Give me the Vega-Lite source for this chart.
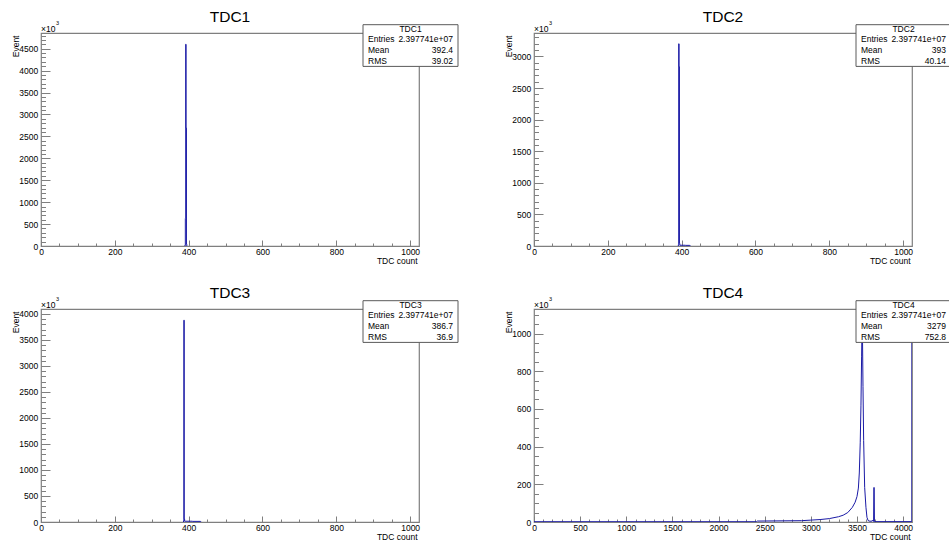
{
  "$schema": "https://vega.github.io/schema/vega-lite/v6.json",
  "background": "white",
  "padding": {"left": 10, "top": 9, "right": 0, "bottom": 0},
  "datasets": {
    "hist": [
      {"tdc": "TDC1", "tdc_count": 389, "events_k": 0},
      {"tdc": "TDC1", "tdc_count": 390, "events_k": 15},
      {"tdc": "TDC1", "tdc_count": 391, "events_k": 630},
      {"tdc": "TDC1", "tdc_count": 392, "events_k": 4600},
      {"tdc": "TDC1", "tdc_count": 393, "events_k": 2690},
      {"tdc": "TDC1", "tdc_count": 394, "events_k": 40},
      {"tdc": "TDC1", "tdc_count": 395, "events_k": 0},
      {"tdc": "TDC2", "tdc_count": 390, "events_k": 0},
      {"tdc": "TDC2", "tdc_count": 391, "events_k": 20},
      {"tdc": "TDC2", "tdc_count": 392, "events_k": 3200},
      {"tdc": "TDC2", "tdc_count": 393, "events_k": 2840},
      {"tdc": "TDC2", "tdc_count": 394, "events_k": 40},
      {"tdc": "TDC2", "tdc_count": 395, "events_k": 12},
      {"tdc": "TDC2", "tdc_count": 410, "events_k": 10},
      {"tdc": "TDC2", "tdc_count": 422, "events_k": 6},
      {"tdc": "TDC2", "tdc_count": 423, "events_k": 0},
      {"tdc": "TDC3", "tdc_count": 385, "events_k": 0},
      {"tdc": "TDC3", "tdc_count": 386, "events_k": 25},
      {"tdc": "TDC3", "tdc_count": 387, "events_k": 3880},
      {"tdc": "TDC3", "tdc_count": 388, "events_k": 60},
      {"tdc": "TDC3", "tdc_count": 389, "events_k": 15},
      {"tdc": "TDC3", "tdc_count": 410, "events_k": 12},
      {"tdc": "TDC3", "tdc_count": 432, "events_k": 8},
      {"tdc": "TDC3", "tdc_count": 433, "events_k": 0},
      {"tdc": "TDC4", "tdc_count": 0, "events_k": 1.5},
      {"tdc": "TDC4", "tdc_count": 2410, "events_k": 1.5},
      {"tdc": "TDC4", "tdc_count": 2420, "events_k": 5},
      {"tdc": "TDC4", "tdc_count": 2900, "events_k": 7},
      {"tdc": "TDC4", "tdc_count": 3000, "events_k": 10},
      {"tdc": "TDC4", "tdc_count": 3100, "events_k": 13},
      {"tdc": "TDC4", "tdc_count": 3200, "events_k": 18},
      {"tdc": "TDC4", "tdc_count": 3300, "events_k": 28},
      {"tdc": "TDC4", "tdc_count": 3350, "events_k": 36},
      {"tdc": "TDC4", "tdc_count": 3400, "events_k": 50},
      {"tdc": "TDC4", "tdc_count": 3450, "events_k": 78},
      {"tdc": "TDC4", "tdc_count": 3480, "events_k": 105},
      {"tdc": "TDC4", "tdc_count": 3500, "events_k": 135},
      {"tdc": "TDC4", "tdc_count": 3515, "events_k": 180},
      {"tdc": "TDC4", "tdc_count": 3525, "events_k": 260},
      {"tdc": "TDC4", "tdc_count": 3535, "events_k": 420},
      {"tdc": "TDC4", "tdc_count": 3543, "events_k": 620},
      {"tdc": "TDC4", "tdc_count": 3550, "events_k": 880},
      {"tdc": "TDC4", "tdc_count": 3555, "events_k": 1076},
      {"tdc": "TDC4", "tdc_count": 3560, "events_k": 960},
      {"tdc": "TDC4", "tdc_count": 3565, "events_k": 720},
      {"tdc": "TDC4", "tdc_count": 3572, "events_k": 433},
      {"tdc": "TDC4", "tdc_count": 3583, "events_k": 184},
      {"tdc": "TDC4", "tdc_count": 3597, "events_k": 78},
      {"tdc": "TDC4", "tdc_count": 3608, "events_k": 25},
      {"tdc": "TDC4", "tdc_count": 3620, "events_k": 8},
      {"tdc": "TDC4", "tdc_count": 3640, "events_k": 4},
      {"tdc": "TDC4", "tdc_count": 3665, "events_k": 5},
      {"tdc": "TDC4", "tdc_count": 3673, "events_k": 10},
      {"tdc": "TDC4", "tdc_count": 3680, "events_k": 3},
      {"tdc": "TDC4", "tdc_count": 3683, "events_k": 183},
      {"tdc": "TDC4", "tdc_count": 3686, "events_k": 183},
      {"tdc": "TDC4", "tdc_count": 3689, "events_k": 2},
      {"tdc": "TDC4", "tdc_count": 4094, "events_k": 2},
      {"tdc": "TDC4", "tdc_count": 4095, "events_k": 1076}
    ],
    "stats": [
      {"tdc": "TDC1", "line": 0, "stat": "Entries", "val": "2.397741e+07"},
      {"tdc": "TDC1", "line": 1, "stat": "Mean", "val": "392.4"},
      {"tdc": "TDC1", "line": 2, "stat": "RMS", "val": "39.02"},
      {"tdc": "TDC2", "line": 0, "stat": "Entries", "val": "2.397741e+07"},
      {"tdc": "TDC2", "line": 1, "stat": "Mean", "val": "393"},
      {"tdc": "TDC2", "line": 2, "stat": "RMS", "val": "40.14"},
      {"tdc": "TDC3", "line": 0, "stat": "Entries", "val": "2.397741e+07"},
      {"tdc": "TDC3", "line": 1, "stat": "Mean", "val": "386.7"},
      {"tdc": "TDC3", "line": 2, "stat": "RMS", "val": "36.9"},
      {"tdc": "TDC4", "line": 0, "stat": "Entries", "val": "2.397741e+07"},
      {"tdc": "TDC4", "line": 1, "stat": "Mean", "val": "3279"},
      {"tdc": "TDC4", "line": 2, "stat": "RMS", "val": "752.8"}
    ]
  },
  "columns": 2,
  "spacing": {"row": 63, "column": 115},
  "bounds": "flush",
  "concat": [
    {
      "width": 378, "height": 213,
      "title": {"text": "TDC1"},
      "layer": [
        {
          "data": {"name": "hist"},
          "transform": [{"filter": "datum.tdc === 'TDC1'"}],
          "mark": {"type": "line", "interpolate": "step-after", "color": "#1a1aa6", "strokeWidth": 1, "clip": true},
          "encoding": {
            "x": {"field": "tdc_count", "type": "quantitative", "scale": {"domain": [0, 1024], "nice": false, "zero": false},
              "axis": {"values": [0,50,100,150,200,250,300,350,400,450,500,550,600,650,700,750,800,850,900,950,1000], "format": "d",
                "labelExpr": "datum.value % 200 === 0 ? datum.label : ''",
                "tickSize": {"condition": {"test": "datum.value % 200 === 0", "value": -6}, "value": -3},
                "labelPadding": 7.5, "title": "TDC count", "titleX": 376, "titleY": 14, "titleAlign": "right", "titleBaseline": "middle"}},
            "y": {"field": "events_k", "type": "quantitative", "scale": {"domain": [0, 4858], "nice": false},
              "axis": {"values": [0,100,200,300,400,500,600,700,800,900,1000,1100,1200,1300,1400,1500,1600,1700,1800,1900,2000,2100,2200,2300,2400,2500,2600,2700,2800,2900,3000,3100,3200,3300,3400,3500,3600,3700,3800,3900,4000,4100,4200,4300,4400,4500,4600,4700,4800], "format": "d",
                "labelExpr": "datum.value % 500 === 0 ? datum.label : ''",
                "tickSize": {"condition": {"test": "datum.value % 500 === 0", "value": -9}, "value": -4.5},
                "labelPadding": 12.3, "title": "Event", "titleX": -26, "titleY": 2, "titleAlign": "right", "titleAngle": 270, "titleBaseline": "middle"}}
          }
        },
        {"data": {"name": "stats"}, "transform": [{"filter": "datum.tdc === 'TDC1' && datum.line === 0"}],
          "mark": {"type": "rect", "x": 322, "x2": 417, "y": -8.3, "y2": 33.4, "fill": "white", "stroke": "#5a5a5a", "strokeWidth": 1}},
        {"data": {"name": "stats"}, "transform": [{"filter": "datum.tdc === 'TDC1' && datum.line === 0"}],
          "mark": {"type": "rule", "x": 322, "x2": 417, "y": 0, "y2": 0, "stroke": "#5a5a5a", "strokeWidth": 1}, "encoding": {}},
        {"data": {"name": "stats"}, "transform": [{"filter": "datum.tdc === 'TDC1' && datum.line === 0"}],
          "mark": {"type": "text", "x": 369.5, "y": -4, "align": "center", "baseline": "middle", "fontSize": 8.5},
          "encoding": {"text": {"field": "tdc"}}},
        {"data": {"name": "stats"}, "transform": [{"filter": "datum.tdc === 'TDC1'"}],
          "mark": {"type": "text", "x": 327, "y": {"expr": "6.4 + datum.line * 10.65"}, "align": "left", "baseline": "middle", "fontSize": 8.5},
          "encoding": {"text": {"field": "stat"}}},
        {"data": {"name": "stats"}, "transform": [{"filter": "datum.tdc === 'TDC1'"}],
          "mark": {"type": "text", "x": 412, "y": {"expr": "6.4 + datum.line * 10.65"}, "align": "right", "baseline": "middle", "fontSize": 8.5},
          "encoding": {"text": {"field": "val"}}},
        {"data": {"name": "stats"}, "transform": [{"filter": "datum.tdc === 'TDC1' && datum.line === 0"}],
          "mark": {"type": "text", "text": "×10", "x": 0, "y": -1.5, "align": "left", "baseline": "alphabetic", "fontSize": 8.5}},
        {"data": {"name": "stats"}, "transform": [{"filter": "datum.tdc === 'TDC1' && datum.line === 0"}],
          "mark": {"type": "text", "text": "3", "x": 15, "y": -8, "align": "left", "baseline": "alphabetic", "fontSize": 5.5}}
      ]
    },
    {
      "width": 378, "height": 213,
      "title": {"text": "TDC2"},
      "layer": [
        {
          "data": {"name": "hist"},
          "transform": [{"filter": "datum.tdc === 'TDC2'"}],
          "mark": {"type": "line", "interpolate": "step-after", "color": "#1a1aa6", "strokeWidth": 1, "clip": true},
          "encoding": {
            "x": {"field": "tdc_count", "type": "quantitative", "scale": {"domain": [0, 1024], "nice": false, "zero": false},
              "axis": {"values": [0,50,100,150,200,250,300,350,400,450,500,550,600,650,700,750,800,850,900,950,1000], "format": "d",
                "labelExpr": "datum.value % 200 === 0 ? datum.label : ''",
                "tickSize": {"condition": {"test": "datum.value % 200 === 0", "value": -6}, "value": -3},
                "labelPadding": 7.5, "title": "TDC count", "titleX": 376, "titleY": 14, "titleAlign": "right", "titleBaseline": "middle"}},
            "y": {"field": "events_k", "type": "quantitative", "scale": {"domain": [0, 3371], "nice": false},
              "axis": {"values": [0,100,200,300,400,500,600,700,800,900,1000,1100,1200,1300,1400,1500,1600,1700,1800,1900,2000,2100,2200,2300,2400,2500,2600,2700,2800,2900,3000,3100,3200,3300], "format": "d",
                "labelExpr": "datum.value % 500 === 0 ? datum.label : ''",
                "tickSize": {"condition": {"test": "datum.value % 500 === 0", "value": -9}, "value": -4.5},
                "labelPadding": 12.3, "title": "Event", "titleX": -26, "titleY": 2, "titleAlign": "right", "titleAngle": 270, "titleBaseline": "middle"}}
          }
        },
        {"data": {"name": "stats"}, "transform": [{"filter": "datum.tdc === 'TDC2' && datum.line === 0"}],
          "mark": {"type": "rect", "x": 322, "x2": 417, "y": -8.3, "y2": 33.4, "fill": "white", "stroke": "#5a5a5a", "strokeWidth": 1}},
        {"data": {"name": "stats"}, "transform": [{"filter": "datum.tdc === 'TDC2' && datum.line === 0"}],
          "mark": {"type": "rule", "x": 322, "x2": 417, "y": 0, "y2": 0, "stroke": "#5a5a5a", "strokeWidth": 1}, "encoding": {}},
        {"data": {"name": "stats"}, "transform": [{"filter": "datum.tdc === 'TDC2' && datum.line === 0"}],
          "mark": {"type": "text", "x": 369.5, "y": -4, "align": "center", "baseline": "middle", "fontSize": 8.5},
          "encoding": {"text": {"field": "tdc"}}},
        {"data": {"name": "stats"}, "transform": [{"filter": "datum.tdc === 'TDC2'"}],
          "mark": {"type": "text", "x": 327, "y": {"expr": "6.4 + datum.line * 10.65"}, "align": "left", "baseline": "middle", "fontSize": 8.5},
          "encoding": {"text": {"field": "stat"}}},
        {"data": {"name": "stats"}, "transform": [{"filter": "datum.tdc === 'TDC2'"}],
          "mark": {"type": "text", "x": 412, "y": {"expr": "6.4 + datum.line * 10.65"}, "align": "right", "baseline": "middle", "fontSize": 8.5},
          "encoding": {"text": {"field": "val"}}},
        {"data": {"name": "stats"}, "transform": [{"filter": "datum.tdc === 'TDC2' && datum.line === 0"}],
          "mark": {"type": "text", "text": "×10", "x": 0, "y": -1.5, "align": "left", "baseline": "alphabetic", "fontSize": 8.5}},
        {"data": {"name": "stats"}, "transform": [{"filter": "datum.tdc === 'TDC2' && datum.line === 0"}],
          "mark": {"type": "text", "text": "3", "x": 15, "y": -8, "align": "left", "baseline": "alphabetic", "fontSize": 5.5}}
      ]
    },
    {
      "width": 378, "height": 213,
      "title": {"text": "TDC3"},
      "layer": [
        {
          "data": {"name": "hist"},
          "transform": [{"filter": "datum.tdc === 'TDC3'"}],
          "mark": {"type": "line", "interpolate": "step-after", "color": "#1a1aa6", "strokeWidth": 1, "clip": true},
          "encoding": {
            "x": {"field": "tdc_count", "type": "quantitative", "scale": {"domain": [0, 1024], "nice": false, "zero": false},
              "axis": {"values": [0,50,100,150,200,250,300,350,400,450,500,550,600,650,700,750,800,850,900,950,1000], "format": "d",
                "labelExpr": "datum.value % 200 === 0 ? datum.label : ''",
                "tickSize": {"condition": {"test": "datum.value % 200 === 0", "value": -6}, "value": -3},
                "labelPadding": 7.5, "title": "TDC count", "titleX": 376, "titleY": 14, "titleAlign": "right", "titleBaseline": "middle"}},
            "y": {"field": "events_k", "type": "quantitative", "scale": {"domain": [0, 4096], "nice": false},
              "axis": {"values": [0,100,200,300,400,500,600,700,800,900,1000,1100,1200,1300,1400,1500,1600,1700,1800,1900,2000,2100,2200,2300,2400,2500,2600,2700,2800,2900,3000,3100,3200,3300,3400,3500,3600,3700,3800,3900,4000], "format": "d",
                "labelExpr": "datum.value % 500 === 0 ? datum.label : ''",
                "tickSize": {"condition": {"test": "datum.value % 500 === 0", "value": -9}, "value": -4.5},
                "labelPadding": 12.3, "title": "Event", "titleX": -26, "titleY": 2, "titleAlign": "right", "titleAngle": 270, "titleBaseline": "middle"}}
          }
        },
        {"data": {"name": "stats"}, "transform": [{"filter": "datum.tdc === 'TDC3' && datum.line === 0"}],
          "mark": {"type": "rect", "x": 322, "x2": 417, "y": -8.3, "y2": 33.4, "fill": "white", "stroke": "#5a5a5a", "strokeWidth": 1}},
        {"data": {"name": "stats"}, "transform": [{"filter": "datum.tdc === 'TDC3' && datum.line === 0"}],
          "mark": {"type": "rule", "x": 322, "x2": 417, "y": 0, "y2": 0, "stroke": "#5a5a5a", "strokeWidth": 1}, "encoding": {}},
        {"data": {"name": "stats"}, "transform": [{"filter": "datum.tdc === 'TDC3' && datum.line === 0"}],
          "mark": {"type": "text", "x": 369.5, "y": -4, "align": "center", "baseline": "middle", "fontSize": 8.5},
          "encoding": {"text": {"field": "tdc"}}},
        {"data": {"name": "stats"}, "transform": [{"filter": "datum.tdc === 'TDC3'"}],
          "mark": {"type": "text", "x": 327, "y": {"expr": "6.4 + datum.line * 10.65"}, "align": "left", "baseline": "middle", "fontSize": 8.5},
          "encoding": {"text": {"field": "stat"}}},
        {"data": {"name": "stats"}, "transform": [{"filter": "datum.tdc === 'TDC3'"}],
          "mark": {"type": "text", "x": 412, "y": {"expr": "6.4 + datum.line * 10.65"}, "align": "right", "baseline": "middle", "fontSize": 8.5},
          "encoding": {"text": {"field": "val"}}},
        {"data": {"name": "stats"}, "transform": [{"filter": "datum.tdc === 'TDC3' && datum.line === 0"}],
          "mark": {"type": "text", "text": "×10", "x": 0, "y": -1.5, "align": "left", "baseline": "alphabetic", "fontSize": 8.5}},
        {"data": {"name": "stats"}, "transform": [{"filter": "datum.tdc === 'TDC3' && datum.line === 0"}],
          "mark": {"type": "text", "text": "3", "x": 15, "y": -8, "align": "left", "baseline": "alphabetic", "fontSize": 5.5}}
      ]
    },
    {
      "width": 378, "height": 213,
      "title": {"text": "TDC4"},
      "layer": [
        {
          "data": {"name": "hist"},
          "transform": [{"filter": "datum.tdc === 'TDC4'"}],
          "mark": {"type": "line", "interpolate": "linear", "color": "#1a1aa6", "strokeWidth": 1, "clip": true},
          "encoding": {
            "x": {"field": "tdc_count", "type": "quantitative", "scale": {"domain": [0, 4096], "nice": false, "zero": false},
              "axis": {"values": [0,100,200,300,400,500,600,700,800,900,1000,1100,1200,1300,1400,1500,1600,1700,1800,1900,2000,2100,2200,2300,2400,2500,2600,2700,2800,2900,3000,3100,3200,3300,3400,3500,3600,3700,3800,3900,4000], "format": "d",
                "labelExpr": "datum.value % 500 === 0 ? datum.label : ''",
                "tickSize": {"condition": {"test": "datum.value % 500 === 0", "value": -6}, "value": -3},
                "labelPadding": 7.5, "title": "TDC count", "titleX": 376, "titleY": 14, "titleAlign": "right", "titleBaseline": "middle"}},
            "y": {"field": "events_k", "type": "quantitative", "scale": {"domain": [0, 1130], "nice": false},
              "axis": {"values": [0,50,100,150,200,250,300,350,400,450,500,550,600,650,700,750,800,850,900,950,1000,1050,1100], "format": "d",
                "labelExpr": "datum.value % 200 === 0 ? datum.label : ''",
                "tickSize": {"condition": {"test": "datum.value % 200 === 0", "value": -9}, "value": -4.5},
                "labelPadding": 12.3, "title": "Event", "titleX": -26, "titleY": 2, "titleAlign": "right", "titleAngle": 270, "titleBaseline": "middle"}}
          }
        },
        {"data": {"name": "stats"}, "transform": [{"filter": "datum.tdc === 'TDC4' && datum.line === 0"}],
          "mark": {"type": "rect", "x": 322, "x2": 417, "y": -8.3, "y2": 33.4, "fill": "white", "stroke": "#5a5a5a", "strokeWidth": 1}},
        {"data": {"name": "stats"}, "transform": [{"filter": "datum.tdc === 'TDC4' && datum.line === 0"}],
          "mark": {"type": "rule", "x": 322, "x2": 417, "y": 0, "y2": 0, "stroke": "#5a5a5a", "strokeWidth": 1}, "encoding": {}},
        {"data": {"name": "stats"}, "transform": [{"filter": "datum.tdc === 'TDC4' && datum.line === 0"}],
          "mark": {"type": "text", "x": 369.5, "y": -4, "align": "center", "baseline": "middle", "fontSize": 8.5},
          "encoding": {"text": {"field": "tdc"}}},
        {"data": {"name": "stats"}, "transform": [{"filter": "datum.tdc === 'TDC4'"}],
          "mark": {"type": "text", "x": 327, "y": {"expr": "6.4 + datum.line * 10.65"}, "align": "left", "baseline": "middle", "fontSize": 8.5},
          "encoding": {"text": {"field": "stat"}}},
        {"data": {"name": "stats"}, "transform": [{"filter": "datum.tdc === 'TDC4'"}],
          "mark": {"type": "text", "x": 412, "y": {"expr": "6.4 + datum.line * 10.65"}, "align": "right", "baseline": "middle", "fontSize": 8.5},
          "encoding": {"text": {"field": "val"}}},
        {"data": {"name": "stats"}, "transform": [{"filter": "datum.tdc === 'TDC4' && datum.line === 0"}],
          "mark": {"type": "text", "text": "×10", "x": 0, "y": -1.5, "align": "left", "baseline": "alphabetic", "fontSize": 8.5}},
        {"data": {"name": "stats"}, "transform": [{"filter": "datum.tdc === 'TDC4' && datum.line === 0"}],
          "mark": {"type": "text", "text": "3", "x": 15, "y": -8, "align": "left", "baseline": "alphabetic", "fontSize": 5.5}}
      ]
    }
  ],
  "config": {
    "font": "Liberation Sans",
    "view": {"stroke": "#7f7f7f", "strokeWidth": 1.2},
    "axis": {"domain": false, "grid": false, "tickColor": "#7f7f7f", "tickWidth": 1, "labelFont": "Liberation Sans", "labelFontSize": 8.5, "labelColor": "#000000", "titleFont": "Liberation Sans", "titleFontSize": 8.5, "titleFontWeight": "normal", "titleColor": "#000000", "labelFlush": false, "labelOverlap": false},
    "title": {"font": "Liberation Sans", "fontSize": 15.5, "fontWeight": "normal", "anchor": "middle", "frame": "group", "offset": -4.3, "baseline": "alphabetic", "color": "#000000"},
    "text": {"font": "Liberation Sans", "fontSize": 8.5, "color": "#000000"}
  }
}
